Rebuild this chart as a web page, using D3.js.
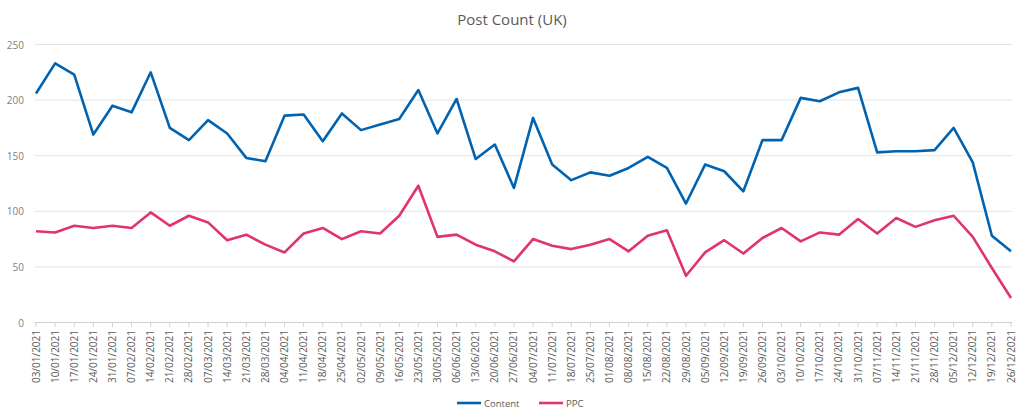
<!DOCTYPE html><html><head><meta charset="utf-8"><script src="https://cdn.jsdelivr.net/npm/d3@7"></script>
<style>body{margin:0;background:#fff;font-family:"Open Sans",sans-serif}</style></head><body><svg id="c" width="1024" height="418"></svg>
<script>
const dates=[];{let d=new Date(2021,0,3);for(let i=0;i<52;i++){const t=new Date(d.getTime()+i*7*864e5);dates.push(String(t.getDate()).padStart(2,'0')+'/'+String(t.getMonth()+1).padStart(2,'0')+'/'+t.getFullYear());}}
const content=[206,233,223,169,195,189,225,175,164,182,170,148,145,186,187,163,188,173,178,183,209,170,201,147,160,121,184,142,128,135,132,139,149,139,107,142,136,118,164,164,202,199,207,211,153,154,154,155,175,144,78,64];
const ppc=[82,81,87,85,87,85,99,87,96,90,74,79,70,63,80,85,75,82,80,96,123,77,79,70,64,55,75,69,66,70,75,64,78,83,42,63,74,62,76,85,73,81,79,93,80,94,86,92,96,77,49,22];
const yTicks=[0,50,100,150,200,250];
const series=[{name:"Content",values:content,color:"#0063b1"},{name:"PPC",values:ppc,color:"#e0336f"}];
const svg=d3.select("#c");
const x=d3.scalePoint().domain(dates).range([36,1011]);
const y=d3.scaleLinear().domain([0,250]).range([322.5,44.5]);
svg.append("text").attr("x",512).attr("y",25).attr("text-anchor","middle").attr("font-size",15).attr("fill","#595959").text("Post Count (UK)");
const g=svg.append("g");
yTicks.forEach(t=>{g.append("line").attr("x1",35).attr("x2",1012).attr("y1",y(t)).attr("y2",y(t)).attr("stroke",t===0?"#d0d0d0":"#e3e3e3");
g.append("text").attr("x",24).attr("y",y(t)+4).attr("text-anchor","end").attr("font-size",10).attr("fill","#7f7f7f").text(t);});
dates.forEach(d=>{g.append("line").attr("x1",x(d)).attr("x2",x(d)).attr("y1",322.5).attr("y2",327).attr("stroke","#d0d0d0");
g.append("text").attr("transform",`translate(${x(d)+3.5},330) rotate(-90)`).attr("text-anchor","end").attr("font-size",10).attr("fill","#595959").text(d);});
const line=d3.line().x((v,i)=>x(dates[i])).y(v=>y(v));
series.forEach(s=>g.append("path").attr("d",line(s.values)).attr("fill","none").attr("stroke",s.color).attr("stroke-width",2.6).attr("stroke-linejoin","round"));
const lg=svg.append("g");
[[457,"Content",0],[539,"PPC",1]].forEach(([lx,n,i])=>{lg.append("line").attr("x1",lx).attr("x2",lx+24).attr("y1",403).attr("y2",403).attr("stroke",series[i].color).attr("stroke-width",2.6);
lg.append("text").attr("x",lx+27).attr("y",406.5).attr("font-size",9.5).attr("fill","#595959").text(n);});
</script></body></html>
